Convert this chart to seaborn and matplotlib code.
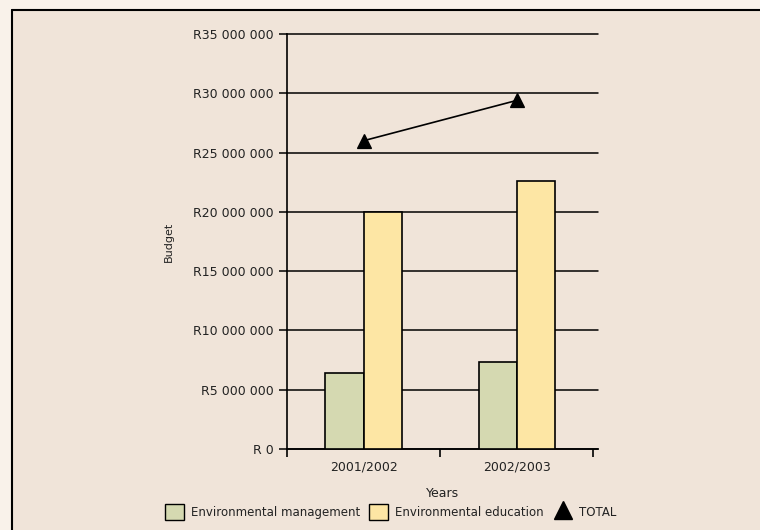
import pandas as pd
import seaborn as sns
import matplotlib.pyplot as plt
from matplotlib.patches import Patch, Rectangle
from matplotlib.lines import Line2D
from matplotlib.ticker import FuncFormatter, FixedLocator

years = ['2001/2002', '2002/2003']
management = [6400000, 7300000]
education = [20000000, 22600000]
totals = [26000000, 29400000]
series_names = ['Environmental management', 'Environmental education']
bar_colors = ['#d5d9b1', '#fde6a4']

df = pd.DataFrame({
    'Years': years * 2,
    'Budget': management + education,
    'Series': [series_names[0]] * 2 + [series_names[1]] * 2,
})

sns.set_style('white')
plt.rcParams['font.family'] = ['DejaVu Sans']

fig = plt.figure(figsize=(7.6, 5.3), dpi=100, facecolor='#f9f2ea')
fig.add_artist(Rectangle((12 / 760, 0), 1, 1 - 10 / 530, transform=fig.transFigure,
                         facecolor='#f0e4d9', edgecolor='none', zorder=-10))
fig.add_artist(Line2D([12 / 760, 1], [1 - 10 / 530, 1 - 10 / 530], color='black', lw=1.5))
fig.add_artist(Line2D([12 / 760, 12 / 760], [0, 1 - 10 / 530], color='black', lw=1.5))

ax = fig.add_axes([287 / 760, 81 / 530, 311 / 760, 415 / 530])
ax.set_facecolor('none')

sns.barplot(data=df, x='Years', y='Budget', hue='Series', palette=bar_colors,
            saturation=1, width=0.5, edgecolor='black', linewidth=1.2, ax=ax,
            legend=False, zorder=3)
sns.pointplot(x=years, y=totals, color='black', markers='^', markersize=10,
              linewidth=1.2, ax=ax, zorder=4)

ax.set_ylim(0, 35000000)
ax.set_xlim(-0.5, 1.53)
ax.set_yticks(range(0, 35000001, 5000000))
ax.yaxis.set_major_formatter(FuncFormatter(
    lambda v, p: 'R 0' if v == 0 else 'R' + f'{int(v):,}'.replace(',', ' ')))
ax.yaxis.grid(True, color='black', lw=1.1, zorder=0)
ax.set_axisbelow(True)
for gl in ax.get_ygridlines():
    gl.set_clip_on(False)

ax.xaxis.set_minor_locator(FixedLocator([-0.5, 0.5, 1.5]))
ax.tick_params(axis='x', which='major', length=0, labelsize=9, pad=8, labelcolor='#222222')
ax.tick_params(axis='x', which='minor', length=6, width=1.2, color='black', direction='out')
ax.tick_params(axis='y', length=6, width=1.1, color='black', direction='out', labelsize=9,
               labelcolor='#222222')
ax.tick_params(bottom=True, left=True, which='both')

for side in ['top', 'right']:
    ax.spines[side].set_visible(False)
for side in ['left', 'bottom']:
    ax.spines[side].set_color('black')
    ax.spines[side].set_linewidth(1.2)

ax.set_xlabel('Years', fontsize=9, labelpad=10, color='#222222')
ax.set_ylabel('Budget', fontsize=8, color='#222222')
ax.yaxis.set_label_coords(-0.365, 0.5)

handles = [Patch(facecolor=bar_colors[0], edgecolor='black'),
           Patch(facecolor=bar_colors[1], edgecolor='black'),
           Line2D([], [], color='black', marker='^', markersize=13, linestyle='none')]
fig.legend(handles, series_names + ['TOTAL'], loc='center', bbox_to_anchor=(0.514, 0.034),
           ncol=3, frameon=False, fontsize=8.5, handlelength=1.6, handleheight=1.8,
           columnspacing=0.8, handletextpad=0.6, labelcolor='#222222')

fig.savefig('out.png', dpi=100, facecolor=fig.get_facecolor())
